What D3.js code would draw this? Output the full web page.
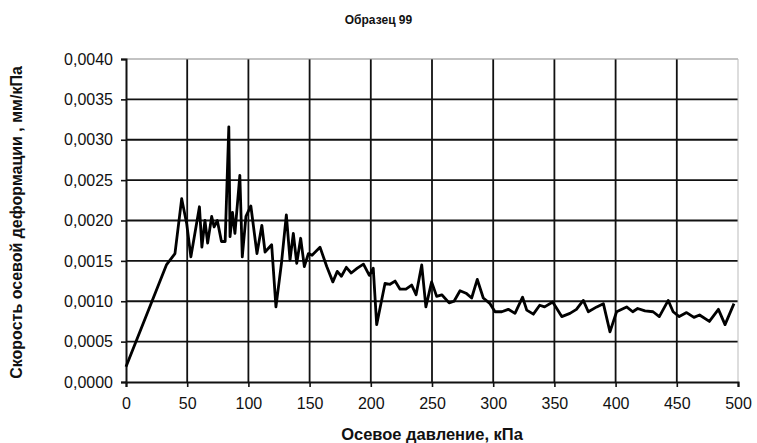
<!DOCTYPE html>
<html>
<head>
<meta charset="utf-8">
<script src="https://cdn.jsdelivr.net/npm/d3@7"></script>
<style>
  body { margin: 0; background: #fff; }
  svg { font-family: "Liberation Sans", Arial, sans-serif; }
</style>
</head>
<body>
<div id="chart"></div>
<script>
// pressure, kPa
var pressure = [0, 33, 40, 45.5, 49.6, 53, 60, 62, 64.5, 66.7, 70, 72, 74.6, 78, 81, 84, 85, 87, 89, 93, 95, 98, 102,
  107, 111, 113.6, 119, 122.5, 127, 131, 134, 136.7, 139.5, 142.7, 145.7, 149, 152, 158.5, 164, 169, 172.6, 176, 180,
  184, 189, 194, 198.8, 202, 204.8, 211.6, 215.7, 219.8, 223.9, 228.7, 233.4, 237, 241.6, 245, 249.7, 253.8, 258,
  264, 268, 272.9, 277.8, 282.4, 287, 291.9, 297.4, 301.5, 307, 312.3, 317.8, 324, 327.4, 332.8, 338, 342, 348.6,
  356, 362.7, 368, 373.6, 377.7, 384.6, 390, 395.4, 400.8, 409, 414, 418, 424, 430.6, 435.7, 443, 447, 452, 458,
  464, 468.6, 476.6, 484, 489.4, 496.7];
// axial strain rate, mm/kPa
var rate = [0.00019, 0.00145, 0.00159, 0.00227, 0.00196, 0.00155, 0.00217, 0.00167, 0.0020, 0.00172, 0.00205, 0.00192,
  0.0020, 0.00174, 0.00174, 0.00316, 0.0018, 0.0021, 0.00184, 0.00256, 0.00155, 0.00205, 0.00218,
  0.00159, 0.00194, 0.00161, 0.0017, 0.00093, 0.00147, 0.00207, 0.00151, 0.00184, 0.00147, 0.00178, 0.00143, 0.00159,
  0.00157, 0.00167, 0.00143, 0.00124, 0.00137, 0.00131, 0.00142, 0.00135, 0.00141, 0.00146, 0.00132, 0.00141, 0.00071,
  0.00122, 0.00121, 0.00125, 0.00115, 0.00115, 0.0012, 0.00108, 0.00145, 0.00093, 0.00124, 0.00106, 0.00108, 0.00098,
  0.0010, 0.00113, 0.0011, 0.00104, 0.00127, 0.00104, 0.00097, 0.00087, 0.00087, 0.0009, 0.00085, 0.00105, 0.00089,
  0.00084, 0.00095, 0.00093, 0.00099, 0.00081, 0.00085, 0.0009, 0.00101, 0.00087, 0.00093, 0.00097, 0.00062, 0.00087,
  0.00093, 0.00087, 0.00091, 0.00088, 0.00087, 0.00081, 0.00101, 0.00087, 0.00081, 0.00086, 0.0008, 0.00083, 0.00075,
  0.0009, 0.00071, 0.00097];

var xTicks = [0, 50, 100, 150, 200, 250, 300, 350, 400, 450, 500];
var yTicks = [0, 0.0005, 0.001, 0.0015, 0.002, 0.0025, 0.003, 0.0035, 0.004];

var width = 757;
var height = 443;
var plotLeft = 126, plotRight = 738, plotTop = 59, plotBottom = 382;

var data = pressure.map(function (p, i) { return { x: p, y: rate[i] }; });

var svg = d3.select("#chart")
  .append("svg")
  .attr("width", width)
  .attr("height", height);

var xScale = d3.scaleLinear().domain([0, 500]).range([plotLeft, plotRight]);
var yScale = d3.scaleLinear().domain([0, 0.004]).range([plotBottom, plotTop]);

// grid
svg.append("g")
  .selectAll("line")
  .data(yTicks.slice(1, -1))
  .enter()
  .append("line")
  .attr("x1", plotLeft).attr("x2", plotRight)
  .attr("y1", function (d) { return yScale(d); })
  .attr("y2", function (d) { return yScale(d); })
  .attr("stroke", "#111")
  .attr("stroke-width", 1.8);

svg.append("g")
  .selectAll("line")
  .data(xTicks.slice(1, -1))
  .enter()
  .append("line")
  .attr("y1", plotTop).attr("y2", plotBottom)
  .attr("x1", function (d) { return xScale(d); })
  .attr("x2", function (d) { return xScale(d); })
  .attr("stroke", "#111")
  .attr("stroke-width", 1.8);

// top and right border (light)
svg.append("line")
  .attr("x1", plotLeft).attr("x2", plotRight)
  .attr("y1", plotTop).attr("y2", plotTop)
  .attr("stroke", "#888").attr("stroke-width", 1.2);
svg.append("line")
  .attr("x1", plotRight).attr("x2", plotRight)
  .attr("y1", plotTop).attr("y2", plotBottom)
  .attr("stroke", "#bbb").attr("stroke-width", 1);

// axes
var xAxis = svg.append("g")
  .attr("transform", "translate(0," + plotBottom + ")")
  .call(d3.axisBottom(xScale).tickValues(xTicks).tickSize(5).tickPadding(11));
var yAxis = svg.append("g")
  .attr("transform", "translate(" + plotLeft + ",0)")
  .call(d3.axisLeft(yScale).tickValues(yTicks).tickSize(5).tickPadding(8)
    .tickFormat(function (d) { return d3.format(".4f")(d).replace(".", ","); }));

[xAxis, yAxis].forEach(function (ax) {
  ax.select(".domain").attr("stroke", "#111").attr("stroke-width", 2);
  ax.selectAll(".tick line").attr("stroke", "#111").attr("stroke-width", 1.6);
  ax.selectAll("text")
    .attr("font-family", "Liberation Sans, Arial, sans-serif")
    .attr("font-size", "16px")
    .attr("fill", "#111");
});

// data line
svg.append("path")
  .datum(data)
  .attr("fill", "none")
  .attr("stroke", "#000")
  .attr("stroke-width", 2.8)
  .attr("stroke-linejoin", "round")
  .attr("d", d3.line()
    .x(function (d) { return xScale(d.x); })
    .y(function (d) { return yScale(d.y); }));

// title
svg.append("text")
  .attr("x", width / 2)
  .attr("y", 24)
  .attr("font-size", "12px")
  .attr("font-weight", "bold")
  .attr("fill", "#111")
  .style("text-anchor", "middle")
  .text("Образец 99");

// X axis title
svg.append("text")
  .attr("x", (plotLeft + plotRight) / 2)
  .attr("y", 440)
  .attr("font-size", "16.5px")
  .attr("font-weight", "bold")
  .attr("fill", "#111")
  .style("text-anchor", "middle")
  .text("Осевое давление, кПа");

// Y axis title
svg.append("text")
  .attr("transform", "rotate(-90)")
  .attr("x", -(plotTop + plotBottom + 4) / 2)
  .attr("y", 22)
  .attr("font-size", "16px")
  .attr("font-weight", "bold")
  .attr("fill", "#111")
  .style("text-anchor", "middle")
  .text("Скорость осевой деформации , мм/кПа");
</script>
</body>
</html>
